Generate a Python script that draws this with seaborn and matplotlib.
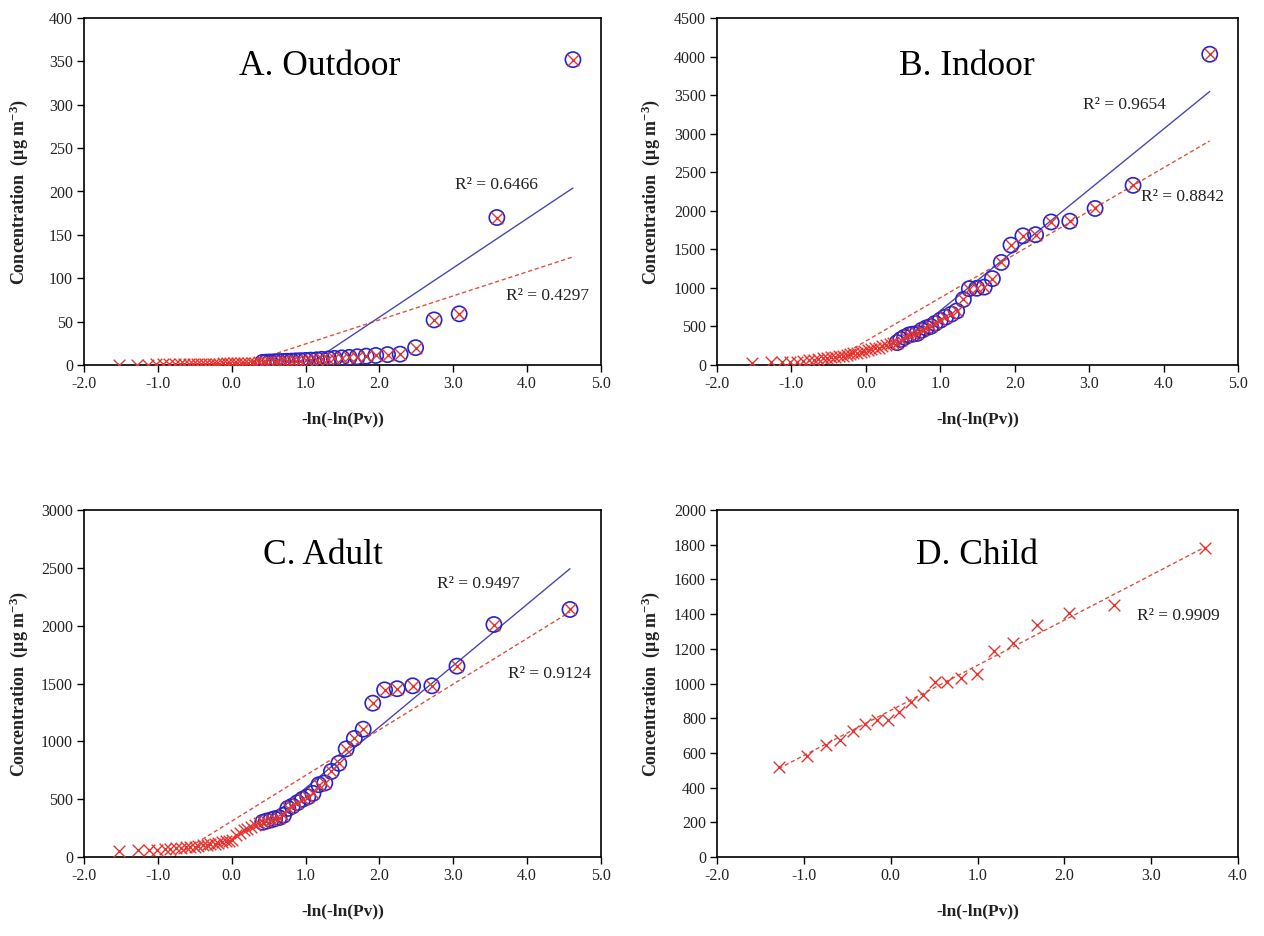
import matplotlib
matplotlib.use("Agg")
import matplotlib.pyplot as plt
import numpy as np
import pandas as pd
import seaborn as sns

# ---------------- data ----------------
# Gumbel reduced variate -ln(-ln(Pv)) for the ranked samples
x_57 = [-1.53, -1.28, -1.13, -1.02, -0.93, -0.85, -0.77, -0.70, -0.64, -0.58,
        -0.52, -0.47, -0.42, -0.36, -0.31, -0.26, -0.21, -0.17, -0.12, -0.07,
        -0.02, 0.03, 0.07, 0.12, 0.17, 0.22, 0.27, 0.32, 0.37, 0.42,
        0.47, 0.52, 0.58, 0.63, 0.69, 0.75, 0.81, 0.87, 0.93, 1.00,
        1.07, 1.15, 1.22, 1.31, 1.39, 1.49, 1.59, 1.70, 1.82, 1.95,
        2.11, 2.28, 2.49, 2.74, 3.08, 3.59, 4.62]
x_55 = [-1.52, -1.27, -1.12, -1.01, -0.91, -0.83, -0.76, -0.69, -0.62, -0.56,
        -0.50, -0.45, -0.39, -0.34, -0.29, -0.23, -0.18, -0.13, -0.08, -0.04,
        0.01, 0.06, 0.11, 0.16, 0.21, 0.26, 0.31, 0.37, 0.42, 0.47,
        0.53, 0.58, 0.64, 0.70, 0.76, 0.82, 0.89, 0.96, 1.03, 1.10,
        1.18, 1.26, 1.35, 1.45, 1.55, 1.66, 1.78, 1.91, 2.07, 2.24,
        2.45, 2.71, 3.05, 3.55, 4.58]
x_21 = [-1.29, -0.96, -0.75, -0.58, -0.43, -0.29, -0.16, -0.03, 0.10, 0.23,
        0.37, 0.51, 0.65, 0.81, 0.99, 1.19, 1.41, 1.69, 2.05, 2.57, 3.62]

outdoor_y = [0.2, 0.4, 0.5, 0.6, 0.7, 0.8, 0.9, 1.0, 1.0, 1.1,
             1.2, 1.2, 1.3, 1.4, 1.4, 1.5, 1.6, 1.7, 1.8, 1.9,
             2.0, 2.1, 2.2, 2.3, 2.4, 2.5, 2.6, 2.8, 3.0, 3.1,
             3.3, 3.5, 3.7, 3.9, 4.1, 4.3, 4.5, 4.8, 5.0, 5.3,
             5.6, 6.0, 6.5, 7.0, 7.6, 8.2, 8.8, 9.5, 10.2, 11.0,
             12.0, 12.5, 20, 52, 59, 170, 352]
indoor_y = [30, 35, 40, 42, 45, 50, 60, 70, 75, 85,
            95, 100, 105, 115, 120, 130, 140, 150, 160, 170,
            180, 195, 205, 215, 225, 240, 255, 270, 280, 290,
            330, 360, 390, 400, 410, 450, 480, 500, 540, 580,
            620, 660, 700, 850, 990, 995, 1010, 1120, 1330, 1555,
            1675, 1690, 1855, 1865, 2030, 2330, 4030]
adult_y = [50, 60, 60, 60, 65, 70, 75, 80, 85, 90,
           90, 95, 100, 105, 110, 115, 120, 130, 135, 140,
           145, 190, 205, 230, 245, 260, 275, 290, 300, 310,
           320, 330, 340, 360, 420, 440, 470, 500, 520, 550,
           625, 640, 740, 810, 935, 1025, 1105, 1330, 1445, 1455,
           1480, 1480, 1650, 2010, 2140]
child_y = [520, 580, 645, 675, 725, 765, 790, 790, 835, 895,
           935, 1010, 1010, 1030, 1055, 1185, 1235, 1340, 1405, 1450, 1780]

# first rank that belongs to the upper (circled) subset, per panel
upper_start = [29, 29, 28, None]

# trend lines: (slope, intercept)
fit_all = [(27.7, -3.4), (562.0, 310.0), (395.0, 310.0), (260.0, 845.0)]
fit_upper = [(56.8, -58.4), (785.0, -80.0), (530.0, 65.0), None]

# R² labels: (text, x, y)
r2_all = [("R² = 0.4297", 4.28, 79), ("R² = 0.8842", 4.25, 2175),
          ("R² = 0.9124", 4.30, 1585), ("R² = 0.9909", 3.31, 1391)]
r2_upper = [("R² = 0.6466", 3.58, 207), ("R² = 0.9654", 3.48, 3375),
            ("R² = 0.9497", 3.34, 2358), None]

titles = ["A. Outdoor", "B. Indoor", "C. Adult", "D. Child"]
title_pos = [(0.456, 0.861), (0.479, 0.861), (0.463, 0.869), (0.499, 0.869)]
xs_list = [x_57, x_57, x_55, x_21]
ys_list = [outdoor_y, indoor_y, adult_y, child_y]
xlims = [(-2, 5), (-2, 5), (-2, 5), (-2, 4)]
ylims = [(0, 400), (0, 4500), (0, 3000), (0, 2000)]
ysteps = [50, 500, 500, 200]

# ---------------- style ----------------
sns.set_theme(style="white")
plt.rcParams["font.family"] = ["Liberation Serif", "DejaVu Serif"]
plt.rcParams["mathtext.fontset"] = "custom"
plt.rcParams["mathtext.rm"] = "Liberation Serif"
plt.rcParams["mathtext.bf"] = "Liberation Serif:bold"
plt.rcParams["mathtext.it"] = "Liberation Serif:italic"

RED = "#e3342f"
BLUE = "#2424d0"
BLUE_LINE = "#4848b4"
RED_LINE = "#e0503c"
TXT = "#222222"

fig = plt.figure(figsize=(12.64, 9.36), dpi=100)
W, H = 1264, 936
boxes = [(84, 18, 601, 365), (717, 18, 1238, 365),
         (84, 510, 601, 857), (717, 510, 1238, 857)]

for k in range(4):
    l, t, r, b = boxes[k]
    ax = fig.add_axes([l / W, 1 - b / H, (r - l) / W, (b - t) / H])
    xs = np.array(xs_list[k])
    ys = np.array(ys_list[k])
    df = pd.DataFrame({"x": xs, "y": ys})

    # fitted lines
    s, c = fit_all[k]
    xr = np.array([xs.min(), xs.max()])
    sns.lineplot(x=xr, y=s * xr + c, ax=ax, color=RED_LINE, lw=1.0,
                 linestyle=(0, (3, 2)), zorder=2)
    if fit_upper[k] is not None:
        su, cu = fit_upper[k]
        xu = xs[upper_start[k]:]
        xur = np.array([xu.min(), xu.max()])
        sns.lineplot(x=xur, y=su * xur + cu, ax=ax, color=BLUE_LINE, lw=1.0,
                     zorder=2)
        up = df.iloc[upper_start[k]:]
        sns.scatterplot(data=up, x="x", y="y", ax=ax, marker="o", s=120,
                        color=BLUE, facecolor="none", edgecolor=BLUE,
                        linewidth=1.2, legend=False, zorder=3)

    sns.scatterplot(data=df, x="x", y="y", ax=ax, marker="x", s=70,
                    color=RED, linewidth=1.0, legend=False, zorder=4)

    ax.set_xlim(*xlims[k])
    ax.set_ylim(*ylims[k])
    ax.set_xticks(np.arange(xlims[k][0], xlims[k][1] + 0.01, 1.0))
    ax.set_xticklabels([f"{v:.1f}" for v in ax.get_xticks()])
    ax.set_yticks(np.arange(0, ylims[k][1] + 1, ysteps[k]))
    ax.set_yticklabels([f"{int(v)}" for v in ax.get_yticks()])
    ax.tick_params(axis="both", direction="out", length=5, width=1,
                   labelsize=11.5, colors="black", labelcolor=TXT, pad=3,
                   bottom=True, left=True)
    for sp in ax.spines.values():
        sp.set_visible(True)
        sp.set_color("black")
        sp.set_linewidth(1.2)

    ax.set_xlabel("-ln(-ln(Pv))", fontsize=12.5, fontweight="bold", color=TXT)
    ax.xaxis.set_label_coords(0.5, -0.135)
    ax.set_ylabel(r"Concentration  (μg m$^{\mathbf{-3}}$)", fontsize=13,
                  fontweight="bold", color=TXT)
    ax.yaxis.set_label_coords(-0.105, 0.5)

    ax.text(title_pos[k][0], title_pos[k][1], titles[k], transform=ax.transAxes,
            fontsize=25.5, ha="center", va="center", color="black")
    for lab in (r2_all[k], r2_upper[k]):
        if lab is not None:
            ax.text(lab[1], lab[2], lab[0], fontsize=12.5, ha="center",
                    va="center", color=TXT)

fig.savefig("out.png", dpi=100, facecolor="white")
